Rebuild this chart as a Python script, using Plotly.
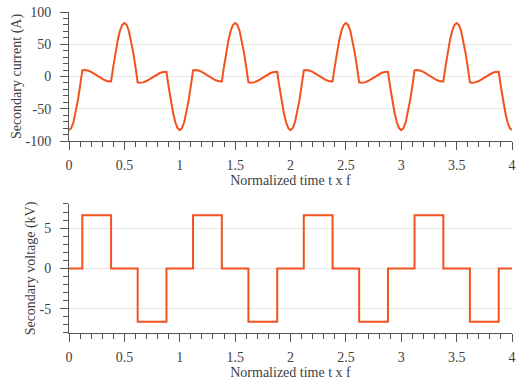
import plotly.graph_objects as go
from plotly.subplots import make_subplots

# One steady-state switching period (normalized time t x f), repeated for each cycle
period_time = [0.00, 0.02, 0.04, 0.06, 0.08, 0.10, 0.12, 0.14, 0.17, 0.20, 0.23,
               0.26, 0.29, 0.32, 0.35, 0.38, 0.40, 0.42, 0.44, 0.46, 0.48, 0.50,
               0.52, 0.54, 0.56, 0.58, 0.60, 0.62, 0.64, 0.67, 0.70, 0.73, 0.76,
               0.79, 0.82, 0.85, 0.88, 0.90, 0.92, 0.94, 0.96, 0.98]
period_current = [-83.0, -80.0, -71.0, -56.0, -37.0, -15.0, 9.4, 10.0, 9.3, 7.2, 4.2,
                  0.6, -2.8, -5.5, -7.2, -7.5, 15.6, 37.5, 56.3, 70.8, 79.9, 83.0,
                  80.0, 71.0, 56.0, 37.0, 15.0, -9.0, -9.8, -9.1, -7.0, -4.0, -0.6,
                  2.8, 5.4, 6.9, 7.2, -16.3, -38.0, -56.6, -70.9, -79.9]

# Secondary voltage step levels (kV) and the instants where they switch
step_time = [0.00, 0.12, 0.38, 0.62, 0.88]
step_voltage = [0.0, 6.6, 0.0, -6.6, 0.0]

n_cycles = 4
x_ticks = [0, 0.5, 1, 1.5, 2, 2.5, 3, 3.5, 4]
x_tick_text = ["0", "0.5", "1", "1.5", "2", "2.5", "3", "3.5", "4"]
i_ticks = [-100, -50, 0, 50, 100]
i_tick_text = ["-100", "-50", "0", "50", "100"]
v_ticks = [-5, 0, 5]
v_tick_text = ["-5", "0", "5"]

t_i, i_vals, t_v, v_vals = [], [], [], []
for k in range(n_cycles):
    t_i += [t + k for t in period_time]
    i_vals += period_current
    t_v += [t + k for t in step_time]
    v_vals += step_voltage
t_i.append(float(n_cycles))
i_vals.append(period_current[0])
t_v.append(float(n_cycles))
v_vals.append(step_voltage[0])

LINE = "#F4511E"
TEXT = "#404040"
AXIS = "#555555"
GRID = "#E6E6E6"
FONT = "Liberation Serif, Times New Roman, serif"

fig = make_subplots(rows=2, cols=1, vertical_spacing=0.196)

fig.add_trace(go.Scatter(x=t_i, y=i_vals, mode="lines",
                         line=dict(color=LINE, width=2), showlegend=False),
              row=1, col=1)
fig.add_trace(go.Scatter(x=t_v, y=v_vals, mode="lines",
                         line=dict(color=LINE, width=2, shape="hv"), showlegend=False),
              row=2, col=1)

xaxis_common = dict(
    range=[0, 4], tickvals=x_ticks, ticktext=x_tick_text,
    showline=True, linecolor=AXIS, linewidth=1, mirror=False,
    ticks="outside", ticklen=8, tickcolor=AXIS, tickwidth=1,
    ticklabelstandoff=3,
    minor=dict(ticks="outside", ticklen=5, tickcolor=AXIS, dtick=0.1, showgrid=False),
    showgrid=False, zeroline=False,
    tickfont=dict(family=FONT, size=14, color=TEXT),
    title=dict(text="Normalized time t x f", font=dict(family=FONT, size=14, color=TEXT),
               standoff=0),
)
fig.update_xaxes(**xaxis_common, row=1, col=1)
fig.update_xaxes(**xaxis_common, row=2, col=1)

yaxis_common = dict(
    showline=True, linecolor=AXIS, linewidth=1,
    ticks="outside", ticklen=8, tickcolor=AXIS, tickwidth=1,
    ticklabelstandoff=6,
    showgrid=True, gridcolor=GRID, gridwidth=1, zeroline=False,
    tickfont=dict(family=FONT, size=14, color=TEXT),
)
fig.update_yaxes(**yaxis_common, range=[-100, 100], tickvals=i_ticks, ticktext=i_tick_text,
                 minor=dict(ticks="outside", ticklen=5, tickcolor=AXIS, dtick=10, showgrid=False),
                 title=dict(text="Secondary current (A)",
                            font=dict(family=FONT, size=14, color=TEXT), standoff=0),
                 row=1, col=1)
fig.update_yaxes(**yaxis_common, range=[-8, 8], tickvals=v_ticks, ticktext=v_tick_text,
                 minor=dict(ticks="outside", ticklen=5, tickcolor=AXIS, dtick=1, showgrid=False),
                 title=dict(text="Secondary voltage (kV)",
                            font=dict(family=FONT, size=14, color=TEXT), standoff=0),
                 row=2, col=1)

fig.update_layout(
    width=520, height=384,
    margin=dict(l=69, r=4, t=12, b=51),
    paper_bgcolor="white", plot_bgcolor="white",
    font=dict(family=FONT, size=14, color=TEXT),
)
fig.update_yaxes(domain=[0.598, 1.0], row=1, col=1)
fig.update_yaxes(domain=[0.0, 0.402], row=2, col=1)

fig.write_html("out.html")
